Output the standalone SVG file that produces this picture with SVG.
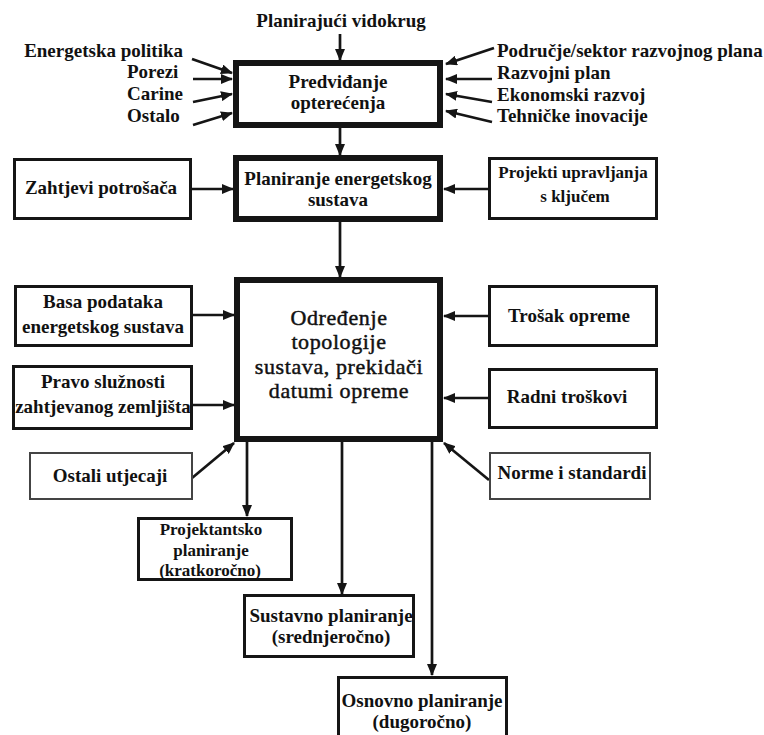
<svg xmlns="http://www.w3.org/2000/svg" width="764" height="735" viewBox="0 0 764 735" font-family="'Liberation Serif', 'DejaVu Serif', serif">
<defs>
<style>
text{font-family:'Liberation Serif','DejaVu Serif',serif;font-weight:bold;font-size:19px;fill:#111}
.c{text-anchor:middle}
.e{text-anchor:end}
.s17{font-size:17px}
.big{font-weight:normal;font-size:22px;letter-spacing:0.6px;stroke:#111;stroke-width:0.45px}
.thick{fill:#fff;stroke:#151515;stroke-width:6}
.box{fill:#fff;stroke:#151515;stroke-width:3}
.thin{fill:#fff;stroke:#444;stroke-width:2}
.ln{stroke:#151515;stroke-width:2.7;fill:none;marker-end:url(#ah)}
</style>
<marker id="ah" markerUnits="userSpaceOnUse" markerWidth="12" markerHeight="10" refX="11" refY="5" orient="auto">
<path d="M0,0 L12,5 L0,10 z" fill="#151515"/>
</marker>
</defs>
<rect width="764" height="735" fill="#fff"/>

<g id="connectors">
<line class="ln" x1="340" y1="34" x2="340" y2="60"/>
<line class="ln" x1="192" y1="59" x2="232" y2="73"/>
<line class="ln" x1="193" y1="79" x2="232" y2="79"/>
<line class="ln" x1="193" y1="102" x2="232" y2="94"/>
<line class="ln" x1="193" y1="125" x2="232" y2="113"/>
<line class="ln" x1="494" y1="48" x2="446" y2="64"/>
<line class="ln" x1="492" y1="79" x2="446" y2="79"/>
<line class="ln" x1="492" y1="102" x2="446" y2="94"/>
<line class="ln" x1="492" y1="122" x2="446" y2="111"/>
<line class="ln" x1="340" y1="128" x2="340" y2="155"/>
<line class="ln" x1="192" y1="189" x2="233" y2="189"/>
<line class="ln" x1="488" y1="189" x2="444" y2="189"/>
<line class="ln" x1="340" y1="222" x2="340" y2="277"/>
<line class="ln" x1="193" y1="315" x2="234" y2="315"/>
<line class="ln" x1="193" y1="405" x2="234" y2="405"/>
<line class="ln" x1="192" y1="478" x2="234" y2="443"/>
<line class="ln" x1="488" y1="316" x2="444" y2="316"/>
<line class="ln" x1="488" y1="398" x2="444" y2="398"/>
<line class="ln" x1="489" y1="480" x2="444" y2="443"/>
<line class="ln" x1="247" y1="442" x2="247" y2="516"/>
<line class="ln" x1="342" y1="442" x2="342" y2="594"/>
<line class="ln" x1="432" y1="442" x2="432" y2="675"/>
</g>

<g id="label-planirajuci">
<text class="c" x="341" y="27">Planirajući vidokrug</text>
</g>
<g id="labels-left">
<text class="e" x="183" y="57">Energetska politika</text>
<text x="127" y="78">Porezi</text>
<text x="127" y="100">Carine</text>
<text x="127" y="122">Ostalo</text>
</g>
<g id="labels-right">
<text x="497" y="57">Područje/sektor razvojnog plana</text>
<text x="497" y="79">Razvojni plan</text>
<text x="497" y="101">Ekonomski razvoj</text>
<text x="497" y="122">Tehničke inovacije</text>
</g>

<g id="predvidjanje">
<rect class="thick" x="236" y="63" width="204" height="62"/>
<text class="c" x="338" y="88">Predviđanje</text>
<text class="c" x="338" y="109">opterećenja</text>
</g>

<g id="planiranje">
<rect class="thick" x="236" y="158" width="204" height="61"/>
<text class="c" x="338" y="185">Planiranje energetskog</text>
<text class="c" x="338" y="206">sustava</text>
</g>

<g id="zahtjevi">
<rect class="box" x="14.5" y="159.5" width="176" height="59"/>
<text class="c" x="101" y="194">Zahtjevi potrošača</text>
</g>

<g id="projekti">
<rect class="box" x="489.5" y="158.5" width="167" height="60"/>
<text class="c s17" x="573" y="178">Projekti upravljanja</text>
<text class="c s17" x="575" y="202">s ključem</text>
</g>

<g id="odredjenje">
<rect class="thick" x="237" y="280" width="203" height="159"/>
<text class="c big" x="339" y="325">Određenje</text>
<text class="c big" x="339" y="349">topologije</text>
<text class="c big" x="339" y="374">sustava, prekidači</text>
<text class="c big" x="339" y="398">datumi opreme</text>
</g>

<g id="basa">
<rect class="box" x="15.5" y="286.5" width="176" height="59"/>
<text class="c" x="103" y="308">Basa podataka</text>
<text class="c" x="103" y="333">energetskog sustava</text>
</g>

<g id="pravo">
<rect class="box" x="13.5" y="366.5" width="178" height="62"/>
<text class="c" x="103" y="388">Pravo služnosti</text>
<text class="c" x="103" y="413">zahtjevanog zemljišta</text>
</g>

<g id="ostali">
<rect class="thin" x="30" y="453" width="162" height="46"/>
<text class="c" x="110" y="482">Ostali utjecaji</text>
</g>

<g id="trosak">
<rect class="box" x="489.5" y="286.5" width="167" height="59"/>
<text class="c" x="569" y="322">Trošak opreme</text>
</g>

<g id="radni">
<rect class="box" x="489.5" y="369.5" width="167" height="58"/>
<text class="c" x="567" y="403">Radni troškovi</text>
</g>

<g id="norme">
<rect class="thin" x="490" y="453" width="160" height="46"/>
<text class="c" x="572" y="479">Norme i standardi</text>
</g>

<g id="projektantsko">
<rect class="box" x="138.5" y="518.5" width="153" height="61"/>
<text class="c s17" x="211" y="535">Projektantsko</text>
<text class="c s17" x="211" y="556">planiranje</text>
<text class="c s17" x="210" y="576">(kratkoročno)</text>
</g>

<g id="sustavno">
<rect class="box" x="244.5" y="595.5" width="169" height="61"/>
<text class="c" x="331" y="622">Sustavno planiranje</text>
<text class="c" x="331" y="643">(srednjeročno)</text>
</g>

<g id="osnovno">
<rect class="box" x="338.5" y="677.5" width="168" height="80"/>
<text class="c" x="422" y="707">Osnovno planiranje</text>
<text class="c" x="422" y="728">(dugoročno)</text>
</g>
</svg>
